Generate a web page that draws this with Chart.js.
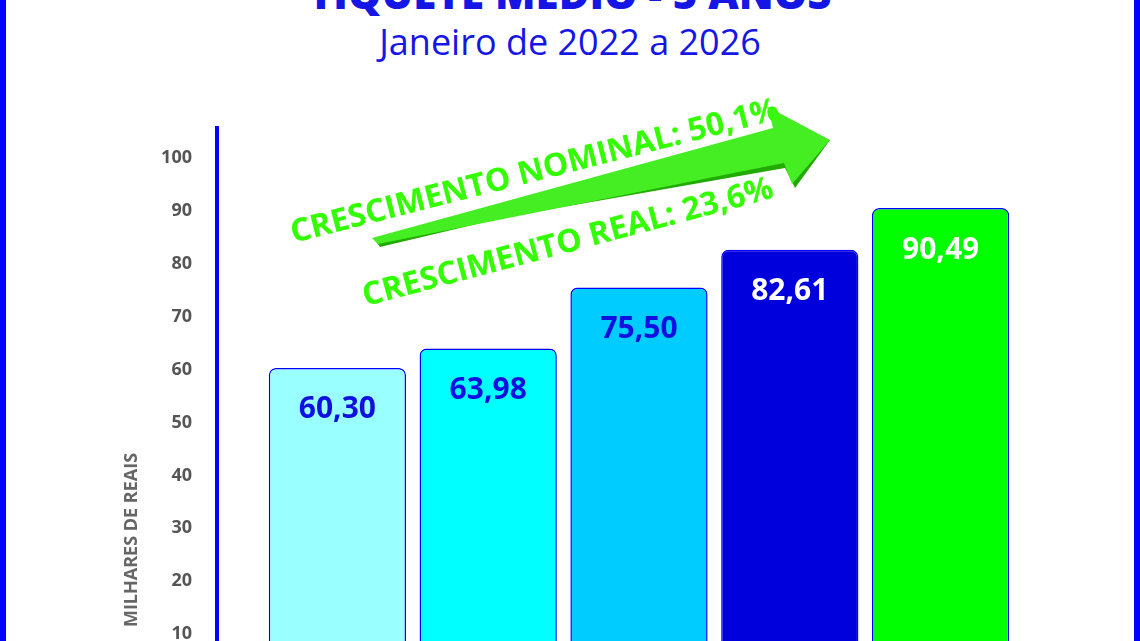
<!DOCTYPE html>
<html>
<head>
<meta charset="utf-8">
<script src="https://cdn.jsdelivr.net/npm/chart.js@4"></script>
<style>
  html, body { margin: 0; padding: 0; background: #fff; overflow: hidden; }
  #wrap { position: relative; width: 1140px; height: 641px; overflow: hidden; }
  #frame { position: absolute; left: 0; top: -20px; width: 1128px; height: 700px; border-left: 6px solid #0000ff; border-right: 6px solid #0000ff; }
  .title { position: absolute; width: 1140px; text-align: center; color: #1515e6; font-family: 'Open Sans', sans-serif; }
  #t1 { top: -36px; font-size: 42px; font-weight: 800; }
  #t2 { top: 17px; font-size: 36px; }
  #c { position: absolute; left: 0; top: 0; }
</style>
</head>
<body>
<div id="wrap">
  <div id="frame"></div>
  <div class="title" id="t1">TIQUETE MÉDIO - 5 ANOS</div>
  <div class="title" id="t2">Janeiro de 2022 a 2026</div>
  <canvas id="c" width="1140" height="760"></canvas>
</div>
<script>
// data
const anos = ['2022', '2023', '2024', '2025', '2026'];
const tiquete = [60.30, 63.98, 75.50, 82.61, 90.49];
const corBarra = ['#99ffff', '#00ffff', '#00ccff', '#0000dd', '#00ff00'];
const corTexto = ['#1010e0', '#1010e0', '#1010e0', '#ffffff', '#ffffff'];
const nominal = 'CRESCIMENTO NOMINAL: 50,1%';
const real = 'CRESCIMENTO REAL: 23,6%';

const extras = {
    id: 'extras',
    afterDatasetsDraw(chart) {
        const ctx = chart.ctx;
        const y = chart.scales.y;
        ctx.save();
        // axis line
        ctx.strokeStyle = '#0000ff';
        ctx.lineWidth = 4;
        ctx.beginPath();
        ctx.moveTo(217, y.getPixelForValue(106));
        ctx.lineTo(217, chart.chartArea.bottom);
        ctx.stroke();

        // value labels
        const meta = chart.getDatasetMeta(0);
        ctx.font = 'bold 30px "Open Sans", sans-serif';
        ctx.textAlign = 'center';
        ctx.textBaseline = 'middle';
        meta.data.forEach((bar, i) => {
            ctx.fillStyle = corTexto[i];
            ctx.fillText(tiquete[i].toFixed(2).replace('.', ','), bar.x, bar.y + 42);
        });

        // axis title
        ctx.save();
        ctx.translate(132, 540);
        ctx.rotate(-Math.PI / 2);
        ctx.fillStyle = '#666';
        ctx.font = 'bold 18px "Open Sans", sans-serif';
        ctx.fillText('MILHARES DE REAIS', 0, 0);
        ctx.restore();

        // arrow
        ctx.fillStyle = '#22aa00';
        ctx.beginPath();
        ctx.moveTo(375, 240); ctx.lineTo(785, 168); ctx.lineTo(795, 188);
        ctx.lineTo(830, 140); ctx.lineTo(380, 247); ctx.closePath();
        ctx.fill();
        ctx.fillStyle = '#44ee22';
        ctx.beginPath();
        ctx.moveTo(372, 238); ctx.lineTo(773, 128); ctx.lineTo(768, 107);
        ctx.lineTo(830, 140); ctx.lineTo(792, 184); ctx.lineTo(784, 163);
        ctx.lineTo(378, 244); ctx.closePath();
        ctx.fill();

        // growth texts
        ctx.fillStyle = '#33ff00';
        ctx.font = 'bold 32px "Open Sans", sans-serif';
        ctx.save();
        ctx.translate(535, 172);
        ctx.rotate(-0.25);
        ctx.fillText(nominal, 0, 0);
        ctx.restore();
        ctx.save();
        ctx.translate(568, 243);
        ctx.rotate(-0.26);
        ctx.fillText(real, 0, 0);
        ctx.restore();
        ctx.restore();
    }
};

new Chart(document.getElementById('c'), {
    type: 'bar',
    data: {
        labels: anos,
        datasets: [{
            data: tiquete,
            backgroundColor: corBarra,
            borderColor: '#0000ff',
            borderWidth: 1.5,
            borderRadius: 7,
            borderSkipped: false,
            barPercentage: 0.91,
            categoryPercentage: 1
        }]
    },
    options: {
        responsive: false,
        animation: false,
        layout: { padding: { top: 126, right: 124, bottom: 28 } },
        plugins: { legend: { display: false }, tooltip: { enabled: false } },
        scales: {
            x: { display: false, grid: { display: false } },
            y: {
                min: 0, max: 106,
                afterFit(s) { s.width = 262; },
                border: { display: false },
                grid: { display: false },
                ticks: {
                    stepSize: 10,
                    padding: 62,
                    color: '#555',
                    font: { family: 'Open Sans', size: 18, weight: 'bold' },
                    callback: v => (v % 10 === 0 ? v : '')
                }
            }
        }
    },
    plugins: [extras]
});
</script>
</body>
</html>
